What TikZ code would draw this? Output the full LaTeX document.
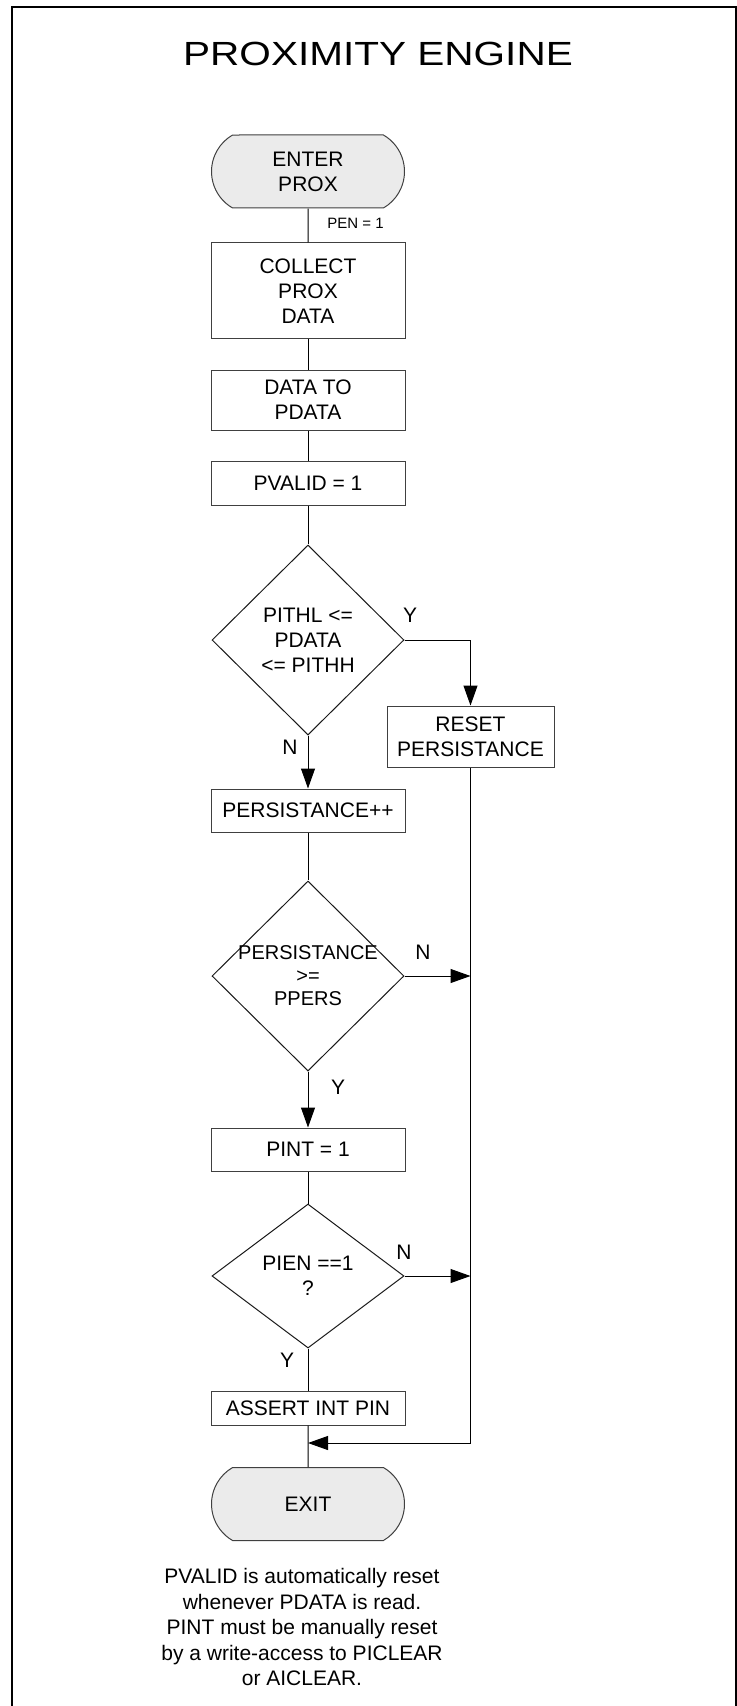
\documentclass[tikz,border=0pt]{standalone}
\usepackage{fontspec}
\setmainfont{Liberation Sans}
\usetikzlibrary{arrows.meta,shapes.geometric,shapes.misc}

\begin{document}
\begin{tikzpicture}[x=0.5pt, y=-0.5pt, >={Triangle[length=10pt,width=7pt]},
    txt/.style={font=\fontsize{10.5}{12.5}\selectfont, align=center, inner sep=0pt},
    box/.style={txt, draw=black!75, line width=0.5pt, minimum width=97pt},
    term/.style={txt, draw=black!75, line width=0.5pt, fill=black!8, rounded rectangle,
        rounded rectangle arc length=120, minimum width=96.5pt, minimum height=36.5pt},
    decision/.style={diamond, draw=black!90, line width=0.5pt, inner sep=0pt, minimum width=96pt},
    line/.style={line width=0.5pt}]

    \useasboundingbox (0,0) rectangle (737,1706);
    \draw[line width=1pt] (12,1720) -- (12,7.5) -- (735.5,7.5) -- (735.5,1720);

    \node (title) at (378,54) {\scalebox{1.21}[1]{\fontsize{16.75}{20}\selectfont PROXIMITY ENGINE}};

    \node[term] (enter) at (308,171.5) {ENTER\\PROX};
    \node[anchor=west, inner sep=0pt, font=\fontsize{7.5}{9}\selectfont] (pen) at (327,223) {PEN = 1};
    \node[box, minimum height=48pt] (collect) at (308,291) {COLLECT\\PROX\\DATA};
    \node[box, minimum height=30pt] (datato) at (308,400) {DATA TO\\PDATA};
    \node[box, minimum height=22pt] (pvalid) at (308,483) {PVALID = 1};

    \node[decision, minimum height=95pt] (dec1) at (308,640) {};
    \node[txt] (dec1t) at (dec1) {PITHL <=\\PDATA\\<= PITHH};
    \node[box, minimum width=83.5pt, minimum height=30.5pt] (reset) at (470.5,736.5) {RESET\\PERSISTANCE};
    \node[box, minimum height=21.5pt] (persist) at (308,810.5) {PERSISTANCE++};

    \node[decision, minimum height=95pt] (dec2) at (308,976) {};
    \node[txt, font=\fontsize{10}{11.5}\selectfont] (dec2t) at (dec2) {PERSISTANCE\\>=\\PPERS};
    \node[box, minimum height=21.5pt] (pint) at (308,1149.5) {PINT = 1};

    \node[decision, minimum height=72pt] (dec3) at (308,1276) {};
    \node[txt] (dec3t) at (dec3) {PIEN ==1\\?};
    \node[box, minimum height=17pt] (assert) at (308,1408) {ASSERT INT PIN};
    \node[term] (exit) at (308,1504) {EXIT};
    \coordinate (join) at (308,1443);

    \node[txt, font=\fontsize{10.5}{12.75}\selectfont] (notes) at (302,1627) {PVALID is automatically reset\\whenever PDATA is read.\\PINT must be manually reset\\by a write-access to PICLEAR\\or AICLEAR.};

    \draw[line] (enter) -- (collect);
    \draw[line] (collect) -- (datato);
    \draw[line] (datato) -- (pvalid);
    \draw[line] (pvalid) -- (dec1);
    \draw[line, ->] (dec1.east) -| (reset.north);
    \draw[line, ->] (dec1.south) -- (persist.north);
    \draw[line] (persist) -- (dec2);
    \draw[line, ->] (dec2.east) -- (dec2.east -| reset.south);
    \draw[line, ->] (dec2.south) -- (pint.north);
    \draw[line] (pint) -- (dec3);
    \draw[line, ->] (dec3.east) -- (dec3.east -| reset.south);
    \draw[line] (dec3.south) -- (assert.north);
    \draw[line] (assert) -- (exit);
    \draw[line, ->] (reset.south) |- (join);

    \node[txt] (y1) at (410,615) {Y};
    \node[txt] (n1) at (290,747) {N};
    \node[txt] (n2) at (423,952) {N};
    \node[txt] (y2) at (338,1087) {Y};
    \node[txt] (n3) at (404,1252) {N};
    \node[txt] (y3) at (287,1360) {Y};

\end{tikzpicture}
\end{document}
